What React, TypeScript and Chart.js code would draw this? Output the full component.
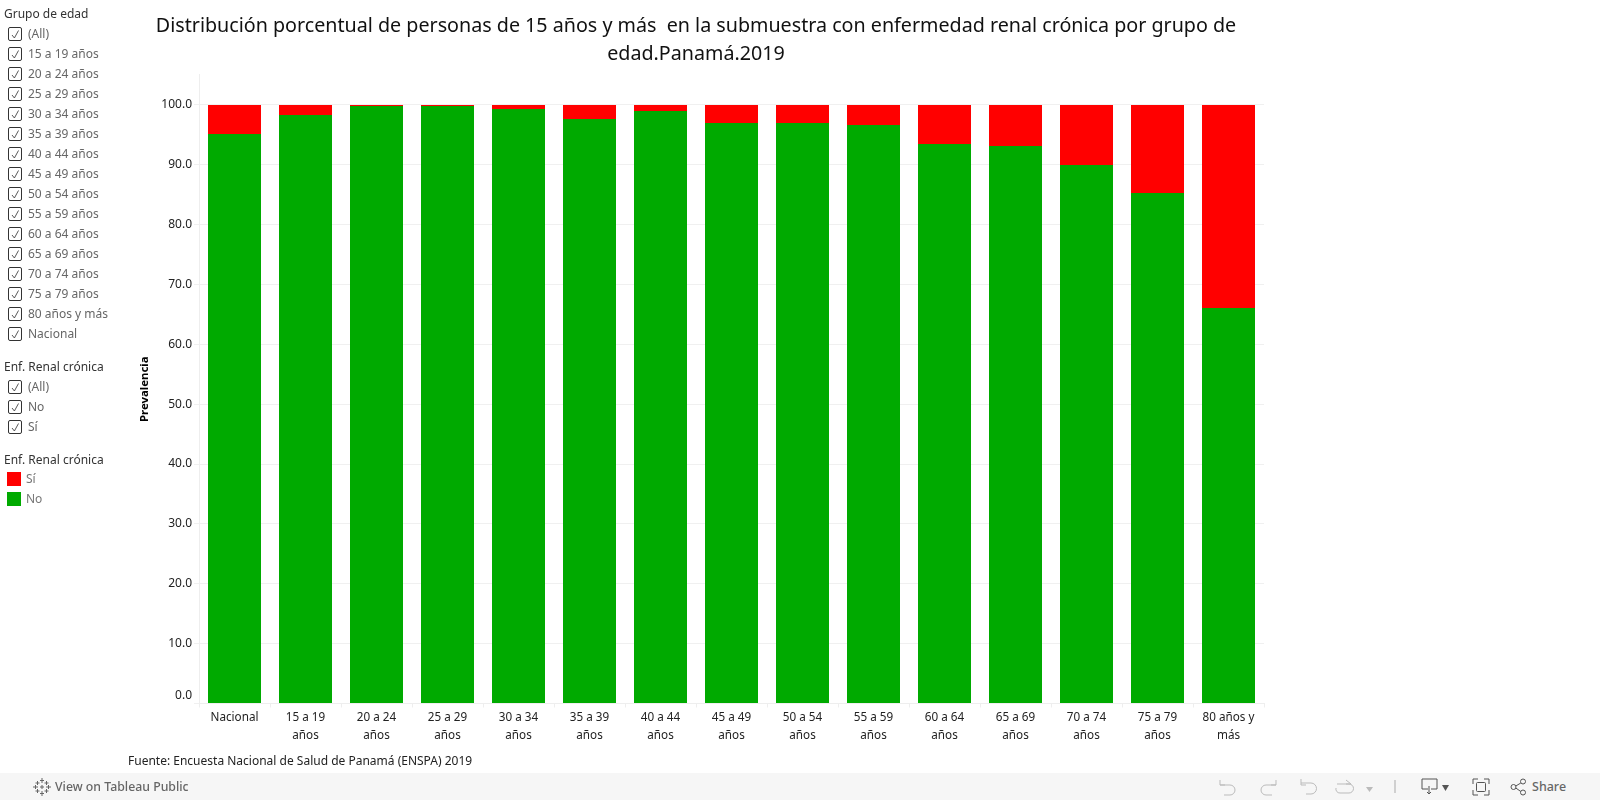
import React, { useEffect, useRef } from "react";
import { Chart, registerables } from "chart.js";

Chart.register(...registerables);

const FONT = '"Noto Sans", "Open Sans", sans-serif';

const tickLabels = [["Nacional"], ["15 a 19", "años"], ["20 a 24", "años"], ["25 a 29", "años"], ["30 a 34", "años"], ["35 a 39", "años"], ["40 a 44", "años"], ["45 a 49", "años"], ["50 a 54", "años"], ["55 a 59", "años"], ["60 a 64", "años"], ["65 a 69", "años"], ["70 a 74", "años"], ["75 a 79", "años"], ["80 años y", "más"]];
const noValues = [95.2, 98.3, 99.8, 99.8, 99.3, 97.7, 99.0, 97.0, 97.0, 96.7, 93.5, 93.2, 90.0, 85.2, 66.1];
const siValues = [4.8, 1.7, 0.2, 0.2, 0.7, 2.3, 1.0, 3.0, 3.0, 3.3, 6.5, 6.8, 10.0, 14.8, 33.9];
const yTicks = [0, 10, 20, 30, 40, 50, 60, 70, 80, 90, 100];
const titleLines = ["Distribución porcentual de personas de 15 años y más  en la submuestra con enfermedad renal crónica por grupo de", "edad.Panamá.2019"];
const ageFilter = ["(All)", "15 a 19 años", "20 a 24 años", "25 a 29 años", "30 a 34 años", "35 a 39 años", "40 a 44 años", "45 a 49 años", "50 a 54 años", "55 a 59 años", "60 a 64 años", "65 a 69 años", "70 a 74 años", "75 a 79 años", "80 años y más", "Nacional"];
const ckdFilter = ["(All)", "No", "Sí"];
const legendItems = [{ label: "Sí", color: "#ff0000" }, { label: "No", color: "#00aa00" }];

const abs = (left: number, top: number, extra: React.CSSProperties = {}): React.CSSProperties => ({ position: "absolute", left, top, whiteSpace: "pre", ...extra });

// Snap the stacked bar edges to whole pixels so no pale seam shows between the two colours.
const crispBars = {
  id: "crispBars",
  afterDatasetsUpdate(chart: any) {
    chart.data.datasets.forEach((_: any, i: number) => {
      chart.getDatasetMeta(i).data.forEach((el: any) => {
        el.y = Math.round(el.y);
        el.base = Math.round(el.base);
      });
    });
  },
};

function Check({ top }: { top: number }) {
  return (
    <svg style={abs(8, top)} width="15" height="15" viewBox="0 0 15 15">
      <rect x="0.5" y="0.5" width="13" height="13" rx="1.5" fill="#fff" stroke="#333" strokeWidth="1" />
      <path d="M4 8 L6.4 11 L10.5 3.5" fill="none" stroke="#444" strokeWidth="0.9" />
    </svg>
  );
}

function Header({ top, text }: { top: number; text: string }) {
  return <div style={abs(4, top, { fontSize: 12, lineHeight: "16px", color: "#333" })}>{text}</div>;
}

function FilterRow({ top, text }: { top: number; text: string }) {
  return (
    <>
      <Check top={top + 1} />
      <div style={abs(28, top, { fontSize: 12, lineHeight: "16px", color: "#666" })}>{text}</div>
    </>
  );
}

export default function App() {
  const ref = useRef<HTMLCanvasElement>(null);
  useEffect(() => {
    const chart = new Chart(ref.current!, {
      type: "bar",
      plugins: [crispBars],
      data: {
        labels: tickLabels as any,
        datasets: [
          { label: "No", data: noValues, backgroundColor: "#00aa00", barThickness: 53, inflateAmount: 0 },
          { label: "Sí", data: siValues, backgroundColor: "#ff0000", barThickness: 53, inflateAmount: 0 },
        ],
      },
      options: {
        responsive: false,
        animation: false,
        devicePixelRatio: 1,
        layout: { padding: { left: 128, right: 336, top: 0, bottom: 27 } },
        plugins: {
          legend: { display: false },
          tooltip: { enabled: false },
          title: {
            display: true,
            text: titleLines,
            color: "#111",
            font: { family: FONT, size: 19.7, weight: "normal", lineHeight: 1.4 },
            padding: { top: 13, bottom: 6.8 },
          },
        },
        scales: {
          x: {
            stacked: true,
            grid: { drawOnChartArea: false, color: "#eeeeee", tickLength: 4 },
            border: { color: "#eeeeee" },
            ticks: { color: "#222", font: { family: FONT, size: 11.7, lineHeight: 1.56 }, maxRotation: 0, autoSkip: false, padding: 1 },
          },
          y: {
            stacked: true,
            min: 0,
            max: 105,
            afterBuildTicks: (s: any) => { s.ticks = yTicks.map((v) => ({ value: v })); },
            afterFit: (s: any) => { s.width = 71; },
            grid: { color: "#f0f0f0", tickLength: 5 },
            border: { color: "#eeeeee" },
            title: { display: true, text: "Prevalencia", color: "#000", font: { family: FONT, size: 11.4, weight: "bold" }, padding: { top: 10, bottom: 0 } },
            ticks: {
              color: "#222",
              font: { family: FONT, size: 12, lineHeight: 1.35 },
              padding: 2,
              callback: (v: any) => (Number(v) === 0 ? ["0.0", ""] : Number(v).toFixed(1)),
            },
          },
        },
      },
    });
    return () => chart.destroy();
  }, []);

  return (
    <div style={{ position: "absolute", left: 0, top: 0, width: 1600, height: 800, overflow: "hidden", background: "#fff", fontFamily: FONT }}>
      <canvas ref={ref} width={1600} height={773} style={{ position: "absolute", left: 0, top: 0 }} />
      <Header top={6} text="Grupo de edad" />
      {ageFilter.map((t, i) => <FilterRow key={t} top={26 + i * 20} text={t} />)}
      <Header top={358.5} text="Enf. Renal crónica" />
      {ckdFilter.map((t, i) => <FilterRow key={t} top={379 + i * 20} text={t} />)}
      <Header top={451.5} text="Enf. Renal crónica" />
      {legendItems.map((it, i) => (
        <React.Fragment key={it.label}>
          <div style={abs(7, 472 + i * 20, { width: 14, height: 14, background: it.color })} />
          <div style={abs(26, 471 + i * 20, { fontSize: 12, lineHeight: "16px", color: "#777" })}>{it.label}</div>
        </React.Fragment>
      ))}
      <div style={abs(128, 753, { fontSize: 12, lineHeight: "16px", color: "#222" })}>Fuente: Encuesta Nacional de Salud de Panamá (ENSPA) 2019</div>
      <div style={abs(0, 773, { width: 1600, height: 27, background: "#f6f6f6" })} />
      <svg style={abs(33, 778)} width="18" height="18" viewBox="0 0 18 18" stroke="#666" strokeWidth="1" fill="none">
        <path d="M9 0v5M7 2.500h4M9 13v5M7 15.500h4M0 9h5M2.500 7v4M13 9h5M15.500 7v4M4.500 3v4M2.500 5h4M13.500 3v4M11.500 5h4M4.500 11v4M2.500 13h4M13.500 11v4M11.500 13h4M9 7v4M7 9h4" />
      </svg>
      <div style={abs(55, 779, { fontSize: 12.3, lineHeight: "16px", color: "#666", fontWeight: 500 })}>View on Tableau Public</div>
      <svg style={abs(1215, 777)} width="320" height="20" viewBox="0 0 320 20" fill="none" stroke="#bbb" strokeWidth="1">
        <path d="M5 3v5h5M5 8h10a5 5 0 0 1 0 10H9" />
        <path d="M61 3v5h-5M61 8H51a5 5 0 0 0 0 10h6" />
        <path d="M86 2v6h5M86 6h10a5.500 5.500 0 0 1 0 11h-5" />
        <path d="M122 7h12a4 4 0 0 1 0 9h-9a4 4 0 0 1-4-5M131 3l5 4-5 0" />
        <path d="M151 10h7l-3.500 5z" fill="#bbb" stroke="none" />
        <path d="M180 3v13" stroke="#aaa" />
        <path d="M207 2h15v10h-6M207 2v10h6M214 9v8M212 15l2 2 2-2" stroke="#555" />
        <path d="M227 8h7l-3.500 6z" fill="#555" stroke="none" />
        <path d="M258 7V2h5M269 2h5v5M274 13v5h-5M263 18h-5v-5" stroke="#555" />
        <rect x="261.500" y="5.500" width="9" height="9" rx="1" stroke="#555" />
        <circle cx="298.500" cy="10" r="2.500" stroke="#555" />
        <circle cx="308" cy="4.500" r="2.500" stroke="#555" />
        <circle cx="308" cy="15.500" r="2.500" stroke="#555" />
        <path d="M300.800 9l5-3M300.800 11l5 3.500" stroke="#555" />
      </svg>
      <div style={abs(1532, 779, { fontSize: 12.5, lineHeight: "16px", color: "#666", fontWeight: 500 })}>Share</div>
    </div>
  );
}
